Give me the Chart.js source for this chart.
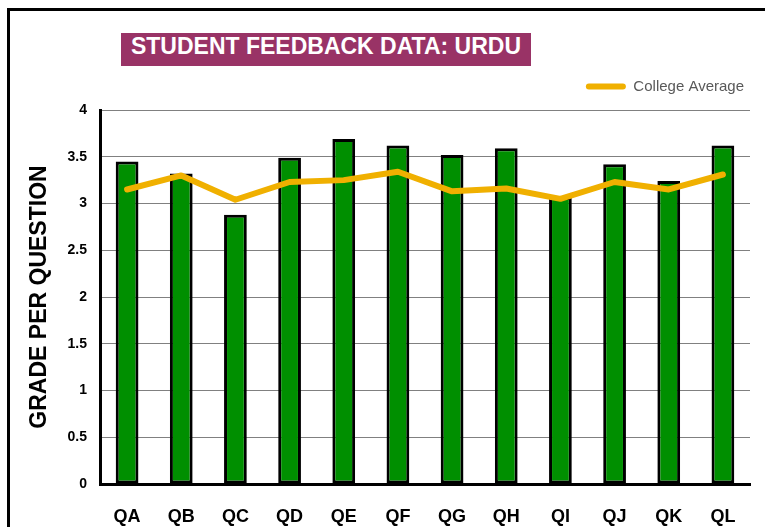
<!DOCTYPE html>
<html>
<head>
<meta charset="utf-8">
<script src="https://cdn.jsdelivr.net/npm/chart.js@4"></script>
<style>
body { margin: 0; background: #fff; }
#wrap { position: relative; width: 765px; height: 527px; overflow: hidden; }
#frame { position: absolute; left: 7px; top: 8px; width: 900px; height: 700px; border-left: 3px solid #000; border-top: 3px solid #000; }
#titulo { position: absolute; left: 121px; top: 33px; width: 410px; height: 33px; line-height: 33px; background: #993366; color: #fff; font: bold 23px "Liberation Sans", Arial, sans-serif; text-align: center; }
canvas { position: absolute; left: 0; top: 0; }
</style>
</head>
<body>
<div id="wrap">
  <div id="frame"></div>
  <canvas id="chart_bar" width="765" height="527"></canvas>
  <div id="titulo">STUDENT FEEDBACK DATA: URDU</div>
</div>
<script>
var questions = ["QA", "QB", "QC", "QD", "QE", "QF", "QG", "QH", "QI", "QJ", "QK", "QL"]
var urdu = [3.45, 3.32, 2.88, 3.49, 3.69, 3.62, 3.52, 3.59, 3.07, 3.42, 3.24, 3.62]
var college_avg = [3.15, 3.30, 3.04, 3.23, 3.25, 3.34, 3.13, 3.16, 3.05, 3.23, 3.15, 3.31]
var y_ticks = [0, 0.5, 1, 1.5, 2, 2.5, 3, 3.5, 4]

var green = "#008f00"
var gold = "#f0b000"

var ctx = document.getElementById("chart_bar");
var myChart = new Chart(ctx, {
    type: 'bar',
    data: {
        labels: questions,
        datasets: [{
            type: 'line',
            label: 'College Average',
            data: college_avg,
            borderColor: gold,
            backgroundColor: gold,
            borderWidth: 6,
            pointRadius: 0,
            tension: 0,
            borderCapStyle: 'round',
            borderJoinStyle: 'round',
            order: 0
        }, {
            label: 'Urdu',
            data: urdu,
            backgroundColor: green,
            borderColor: "#000",
            borderWidth: 3,
            borderSkipped: false,
            barPercentage: 0.42,
            categoryPercentage: 1,
            order: 1
        }]
    },
    options: {
        responsive: false,
        animation: false,
        layout: { padding: { top: 58, right: 0, left: 0, bottom: 0 } },
        plugins: {
            tooltip: { enabled: false },
            legend: {
                position: 'top',
                align: 'end',
                labels: {
                    boxWidth: 40,
                    boxHeight: 6,
                    padding: 21,
                    color: '#595959',
                    font: { family: 'Liberation Sans', size: 15 },
                    useBorderRadius: true,
                    borderRadius: 3,
                    generateLabels: function(chart){
                        var items = Chart.defaults.plugins.legend.labels.generateLabels(chart)
                        items = items.filter(function(it){ return it.text == 'College Average' })
                        items.forEach(function(it){ it.lineWidth = 0; it.fillStyle = gold })
                        return items
                    }
                }
            }
        },
        scales: {
            x: {
                grid: { display: false },
                border: { color: '#000', width: 3 },
                ticks: { color: '#000', padding: 14, font: { family: 'Liberation Sans', size: 18, weight: 'bold' } },
                afterFit: function(s){ s.height = 43 }
            },
            // espaço vazio entre legenda e gráfico
            x2: {
                type: 'linear',
                position: 'top',
                display: true,
                grid: { display: false },
                border: { display: false },
                ticks: { display: false },
                afterFit: function(s){ s.height = 6 }
            },
            y: {
                min: 0,
                max: 4,
                afterBuildTicks: function(s){ s.ticks = y_ticks.map(function(v){ return {value: v} }) },
                grid: { color: '#808080', lineWidth: 1, drawTicks: false },
                border: { color: '#000', width: 3 },
                ticks: {
                    color: '#000',
                    padding: 13,
                    font: { family: 'Liberation Sans', size: 14, weight: 'bold' },
                    callback: function(v){ return String(v) }
                },
                title: {
                    display: true,
                    text: 'GRADE PER QUESTION',
                    color: '#000',
                    padding: { top: 26, bottom: 0 },
                    font: { family: 'Liberation Sans', size: 23, weight: 'bold' }
                },
                afterFit: function(s){ s.width = 100 }
            },
            // espaço vazio à direita
            y2: {
                position: 'right',
                display: true,
                grid: { display: false },
                border: { display: false },
                ticks: { display: false },
                afterFit: function(s){ s.width = 15 }
            }
        }
    }
});
</script>
</body>
</html>
